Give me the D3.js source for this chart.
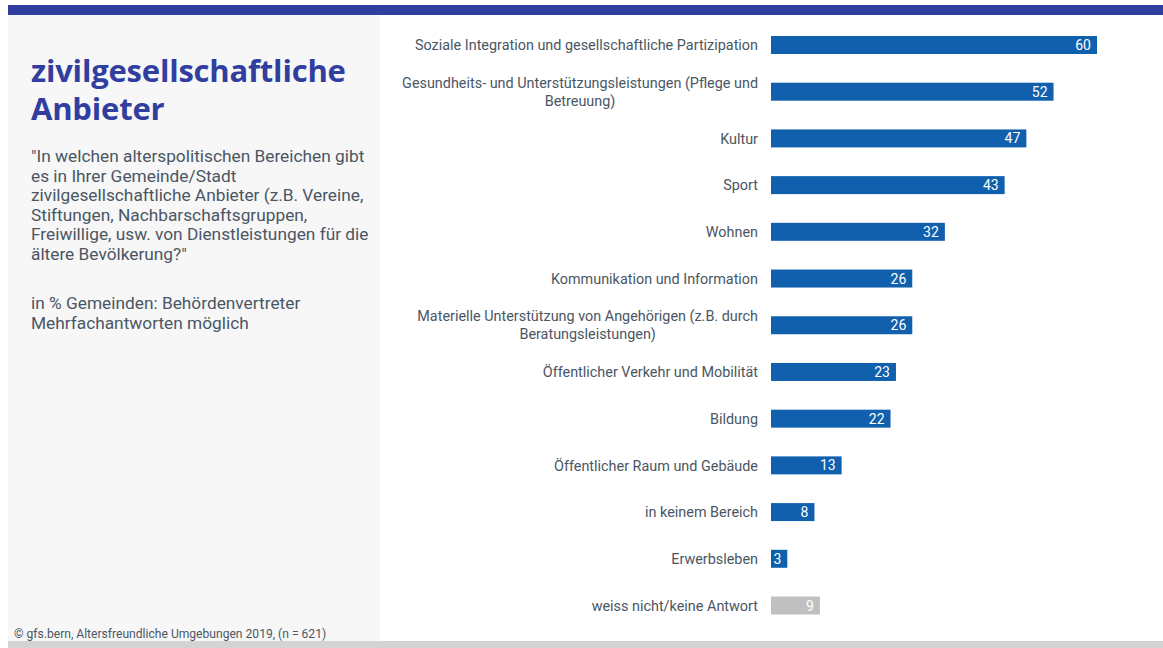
<!DOCTYPE html>
<html>
<head>
<meta charset="utf-8">
<script src="https://cdn.jsdelivr.net/npm/d3@7"></script>
<style>
  html, body { margin: 0; padding: 0; background: #ffffff; }
  svg { display: block; }
</style>
</head>
<body>
<svg id="chart" width="1163" height="648"></svg>
<script>
// Anteil Gemeinden mit zivilgesellschaftlichen Angeboten pro Bereich (in %)
const categories = [
  ["Soziale Integration und gesellschaftliche Partizipation"],
  ["Gesundheits- und Unterstützungsleistungen (Pflege und", "Betreuung)"],
  ["Kultur"],
  ["Sport"],
  ["Wohnen"],
  ["Kommunikation und Information"],
  ["Materielle Unterstützung von Angehörigen (z.B. durch", "Beratungsleistungen)"],
  ["Öffentlicher Verkehr und Mobilität"],
  ["Bildung"],
  ["Öffentlicher Raum und Gebäude"],
  ["in keinem Bereich"],
  ["Erwerbsleben"],
  ["weiss nicht/keine Antwort"]
];
const values = [60, 52, 47, 43, 32, 26, 26, 23, 22, 13, 8, 3, 9];
const isNoAnswer = [false, false, false, false, false, false, false, false, false, false, false, false, true];

const titleLines = ["zivilgesellschaftliche", "Anbieter"];
const questionLines = [
  "\"In welchen alterspolitischen Bereichen gibt",
  "es in Ihrer Gemeinde/Stadt",
  "zivilgesellschaftliche Anbieter (z.B. Vereine,",
  "Stiftungen, Nachbarschaftsgruppen,",
  "Freiwillige, usw. von Dienstleistungen für die",
  "ältere Bevölkerung?\""
];
const noteLines = ["in % Gemeinden: Behördenvertreter", "Mehrfachantworten möglich"];
const footer = "© gfs.bern, Altersfreundliche Umgebungen 2019, (n = 621)";

const svg = d3.select("#chart");
const W = 1163, H = 648;
const labelFont = "Roboto, 'Noto Sans', sans-serif";

// Frame: top band, side panel, bottom band
svg.append("rect").attr("x", 8).attr("y", 5).attr("width", W - 8).attr("height", 10).attr("fill", "#303f9f");
svg.append("rect").attr("x", 8).attr("y", 15).attr("width", 372).attr("height", 626).attr("fill", "#f7f7f7");
svg.append("rect").attr("x", 8).attr("y", 641).attr("width", W - 8).attr("height", 7).attr("fill", "#d3d3d3");

// Side panel texts
const side = svg.append("g");
side.selectAll("text.title").data(titleLines).join("text")
  .attr("class", "title")
  .attr("x", 31).attr("y", (d, i) => 82 + i * 38)
  .attr("fill", "#303f9f")
  .style("font-family", "'Open Sans', sans-serif")
  .style("font-weight", 700)
  .style("font-size", "31px")
  .style("letter-spacing", "-0.2px")
  .text(d => d);

side.selectAll("text.q").data(questionLines).join("text")
  .attr("class", "q")
  .attr("x", 31).attr("y", (d, i) => 162 + i * 19.6)
  .attr("fill", "#4a5664")
  .style("font-family", labelFont)
  .style("font-size", "17.3px")
  .text(d => d);

side.selectAll("text.n").data(noteLines).join("text")
  .attr("class", "n")
  .attr("x", 31).attr("y", (d, i) => 309 + i * 19.6)
  .attr("fill", "#4a5664")
  .style("font-family", labelFont)
  .style("font-size", "17.3px")
  .text(d => d);

svg.append("text")
  .attr("x", 14).attr("y", 638)
  .attr("fill", "#4a5664")
  .style("font-family", labelFont)
  .style("font-size", "12.1px")
  .text(footer);

// Bars
const x = d3.scaleLinear().domain([0, 60]).range([771, 1097]);
const y = d3.scaleBand().domain(d3.range(values.length)).range([22, 628.5]).paddingInner(0.615).paddingOuter(0.3);

const rows = svg.append("g").selectAll("g").data(values).join("g");

rows.append("rect")
  .attr("x", x(0))
  .attr("y", (d, i) => y(i))
  .attr("width", d => x(d) - x(0))
  .attr("height", y.bandwidth())
  .attr("fill", (d, i) => isNoAnswer[i] ? "#c0c0c0" : "#1060ae");

rows.append("text")
  .attr("x", d => x(d) - 6)
  .attr("y", (d, i) => y(i) + y.bandwidth() / 2)
  .attr("dy", "0.36em")
  .attr("text-anchor", "end")
  .attr("fill", "#ffffff")
  .style("font-family", labelFont)
  .style("font-size", "14px")
  .text(d => d);

// Category labels (multi-line labels centred as a block, block right-aligned)
const labelRight = 758;
rows.each(function(d, i) {
  const g = d3.select(this);
  const lines = categories[i];
  const cy = y(i) + y.bandwidth() / 2;
  const t = g.append("text")
    .attr("fill", "#4a5664")
    .style("font-family", labelFont)
    .style("font-size", "14.4px");
  lines.forEach((line, k) => {
    t.append("tspan").attr("y", cy + (k - (lines.length - 1) / 2) * 18).attr("dy", "0.36em").text(line);
  });
  const widths = t.selectAll("tspan").nodes().map(n => n.getComputedTextLength());
  const maxW = d3.max(widths);
  const mid = labelRight - maxW / 2;
  t.selectAll("tspan").attr("x", mid).attr("text-anchor", "middle");
});
</script>
</body>
</html>
